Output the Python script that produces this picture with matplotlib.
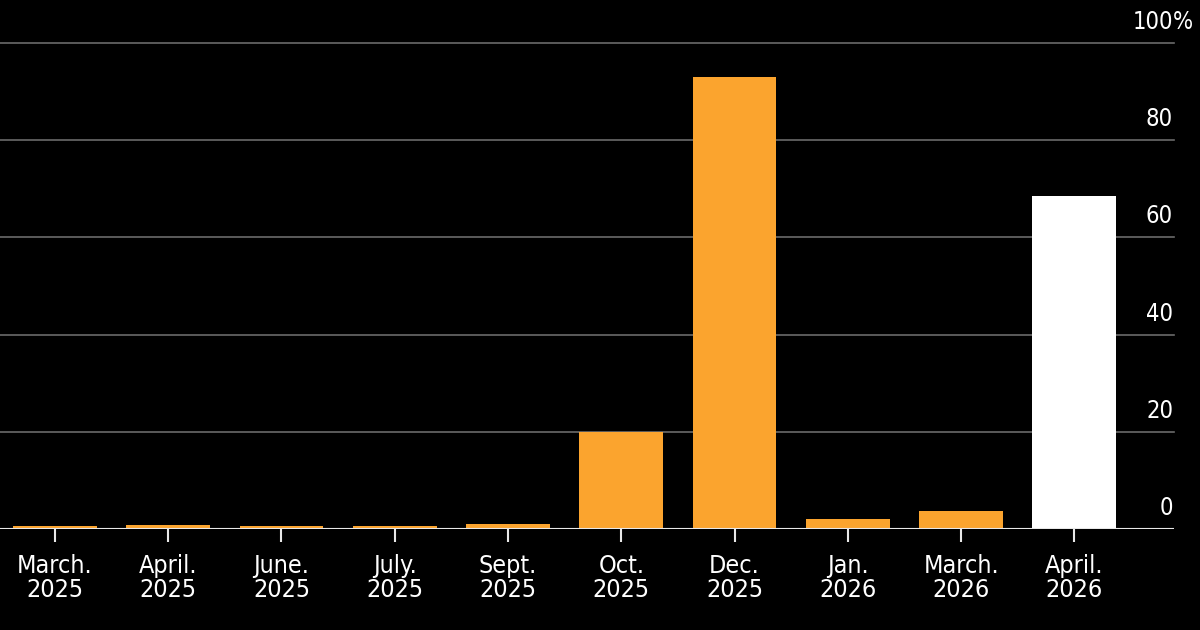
import matplotlib.pyplot as plt
import numpy as np

months = ["March.\n2025", "April.\n2025", "June.\n2025", "July.\n2025", "Sept.\n2025",
          "Oct.\n2025", "Dec.\n2025", "Jan.\n2026", "March.\n2026", "April.\n2026"]
values = [0.6, 0.8, 0.6, 0.6, 1.0, 20.0, 93.0, 2.0, 3.8, 68.5]
colors = ["#fba42e"] * 9 + ["#ffffff"]
yticks = [0, 20, 40, 60, 80, 100]
ylabels = ["0", "20", "40", "60", "80", "100"]

plt.rcParams['font.family'] = ['DejaVu Sans']
plt.rcParams['font.stretch'] = 'condensed'

fig = plt.figure(figsize=(12, 6.3), dpi=100, facecolor="black")
bottom, height = 0.16, 0.772
ax = fig.add_axes([0, bottom, 0.978, height], facecolor="black")

x = np.arange(len(values))
ax.bar(x, values, width=0.74, color=colors, zorder=3)

ax.set_xlim(-0.485, 9.876)
ax.set_ylim(0, 100)
for v in yticks[1:]:
    ax.axhline(v, color="#6a6a6a", lw=1.2, zorder=1, clip_on=False)
ax.axhline(0, color="#e8e8e8", lw=1.5, zorder=4)

# value labels sit above the gridlines, right edge at the line end
for v, lab in zip(yticks, ylabels):
    y = bottom + height * v / 100 + 0.0145
    fig.text(1173 / 1200, y, lab, color="white", fontsize=17, ha="right", va="bottom")
fig.text(1173 / 1200, bottom + height + 0.0145, "%", color="white", fontsize=17,
         ha="left", va="bottom")

ax.set_xticks(x)
ax.set_xticklabels(months, color="white", fontsize=18, linespacing=1.0)
ax.tick_params(axis="x", colors="#e8e8e8", length=9, width=1.5, pad=9)
ax.tick_params(axis="x", labelcolor="white")
ax.set_yticks([])
for s in ax.spines.values():
    s.set_visible(False)

plt.savefig("out.png", dpi=100, facecolor="black")
